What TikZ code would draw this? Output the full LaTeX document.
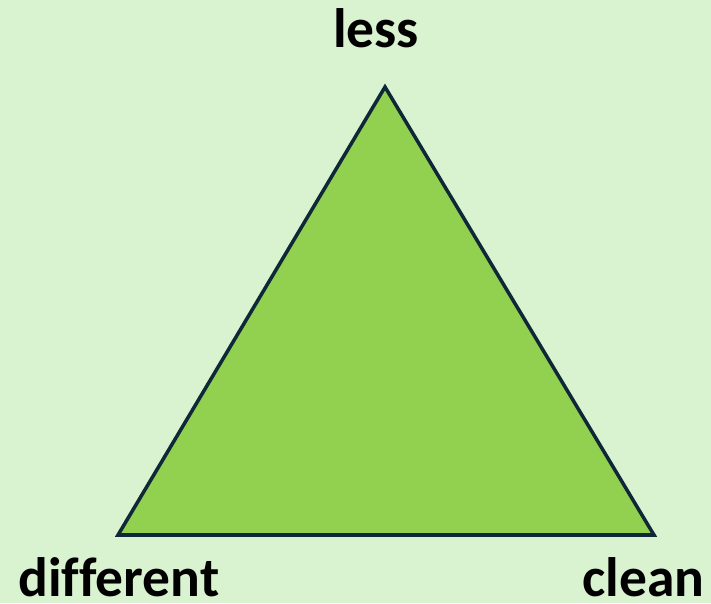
\documentclass[tikz,border=0pt]{standalone}
\usepackage{fontspec}
\setmainfont[Ligatures=CommonOff]{Carlito}
\usetikzlibrary{positioning}
\definecolor{bgmint}{RGB}{217,242,208}
\definecolor{trigreen}{RGB}{146,208,80}
\definecolor{edgenavy}{RGB}{14,40,56}

\begin{document}
\begin{tikzpicture}[x=0.02cm,y=0.02cm]
  \tikzset{
    corner label/.style={font=\fontsize{31.6}{36}\selectfont\bfseries, inner sep=0pt, text=black}
  }
  % Background
  \fill[bgmint] (0,0) rectangle (711,603);
  \useasboundingbox (0,0) rectangle (711,603);
  % Triangle
  \coordinate (top) at (385,516);
  \coordinate (left) at (118,68);
  \coordinate (right) at (654,68);
  \filldraw[fill=trigreen, draw=edgenavy, line width=2pt, line join=miter]
    (top) -- (left) -- (right) -- cycle;
  % Labels
  \node[corner label, anchor=base] (less) at (376,555) {less};
  \node[corner label, anchor=base west] (different) at (18,7) {different};
  \node[corner label, anchor=base east] (clean) at (705,7) {clean};
\end{tikzpicture}
\end{document}
